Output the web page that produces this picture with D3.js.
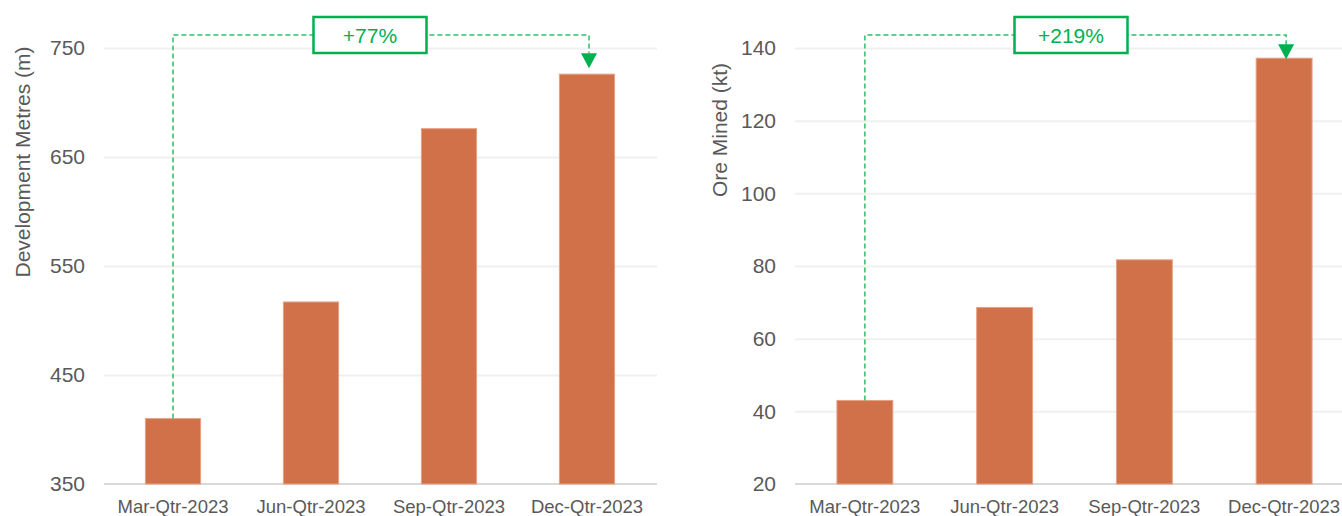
<!DOCTYPE html>
<html>
<head>
<meta charset="utf-8">
<script src="https://cdn.jsdelivr.net/npm/d3@7"></script>
<style>
  body { margin: 0; background: #fff; }
  svg { display: block; font-family: "Liberation Sans", Arial, sans-serif; }
  .grid line { stroke: #f0f0f0; stroke-width: 2; }
  .grid path { display: none; }
  .ytick text { fill: #595959; font-size: 21px; }
  .xtick text { fill: #595959; font-size: 18.5px; }
  .ytick path, .xtick path { display: none; }
</style>
</head>
<body>
<svg id="chart" width="1342" height="516"></svg>
<script>
const quarters = ["Mar-Qtr-2023", "Jun-Qtr-2023", "Sep-Qtr-2023", "Dec-Qtr-2023"];

const devMetres = [410, 517, 676, 726];
const devTicks = [350, 450, 550, 650, 750];
const devTitle = "Development Metres (m)";
const devChange = "+77%";

const oreMined = [43, 68.6, 81.7, 137.2];
const oreTicks = [20, 40, 60, 80, 100, 120, 140];
const oreTitle = "Ore Mined (kt)";
const oreChange = "+219%";

const green = "#00b050";
const barColor = "#d0714a";

const svg = d3.select("#chart");

function drawPanel(opt) {
    const top = 48, bottom = 484;
    const g = svg.append("g");

    const yScale = d3.scaleLinear()
        .domain([opt.ticks[0], opt.ticks[opt.ticks.length - 1]])
        .range([bottom, top]);

    const xScale = d3.scaleBand()
        .domain(quarters)
        .range([opt.left, opt.right])
        .paddingInner(0.6)
        .paddingOuter(0.3);

    // gridlines
    g.append("g")
        .attr("class", "grid")
        .attr("transform", `translate(${opt.left}, 0)`)
        .call(d3.axisLeft(yScale).tickValues(opt.ticks.slice(1))
            .tickSize(-(opt.gridRight - opt.left)).tickFormat(""));

    // baseline
    g.append("line")
        .attr("x1", opt.left).attr("x2", opt.gridRight)
        .attr("y1", yScale(opt.ticks[0])).attr("y2", yScale(opt.ticks[0]))
        .attr("stroke", "#d9d9d9").attr("stroke-width", 2);

    g.append("g")
        .attr("class", "ytick")
        .attr("transform", `translate(${opt.left}, 0)`)
        .call(d3.axisLeft(yScale).tickValues(opt.ticks).tickSize(0).tickPadding(19));

    g.append("g")
        .attr("class", "xtick")
        .attr("transform", `translate(0, ${bottom})`)
        .call(d3.axisBottom(xScale).tickSize(0).tickPadding(16));

    g.selectAll(".bar")
        .data(opt.values)
        .enter()
        .append("rect")
        .attr("class", "bar")
        .attr("x", (d, i) => xScale(quarters[i]))
        .attr("y", d => yScale(d))
        .attr("width", xScale.bandwidth())
        .attr("height", d => bottom - yScale(d))
        .attr("fill", barColor)
        .attr("stroke", "#e6a184")
        .attr("stroke-width", 1);

    g.append("text")
        .attr("transform", `translate(${opt.titleX}, ${opt.titleY}) rotate(-90)`)
        .attr("text-anchor", "middle")
        .attr("dominant-baseline", "middle")
        .attr("fill", "#595959")
        .attr("font-size", "21px")
        .text(opt.title);

    // change annotation
    const n = quarters.length;
    const xa = xScale(quarters[0]) + xScale.bandwidth() / 2;
    const xb = xScale(quarters[n - 1]) + xScale.bandwidth() / 2 + 2;
    const ya = yScale(opt.values[0]);
    const tip = yScale(opt.values[n - 1]) - opt.arrowGap;
    const lineY = 35;
    const arrowH = 15, arrowW = 16;

    g.append("path")
        .attr("d", `M${xa},${ya} V${lineY} H${xb} V${tip - arrowH}`)
        .attr("fill", "none")
        .attr("stroke", "#2fbf68")
        .attr("stroke-width", 1.5)
        .attr("stroke-dasharray", "5,3");

    g.append("path")
        .attr("d", `M${xb - arrowW / 2},${tip - arrowH} L${xb + arrowW / 2},${tip - arrowH} L${xb},${tip} Z`)
        .attr("fill", green);

    const boxW = 113, boxH = 36;
    g.append("rect")
        .attr("x", opt.boxCx - boxW / 2)
        .attr("y", lineY - boxH / 2)
        .attr("width", boxW)
        .attr("height", boxH)
        .attr("fill", "#fff")
        .attr("stroke", green)
        .attr("stroke-width", 2.5);

    g.append("text")
        .attr("x", opt.boxCx)
        .attr("y", lineY)
        .attr("text-anchor", "middle")
        .attr("dominant-baseline", "central")
        .attr("fill", green)
        .attr("font-size", "21px")
        .text(opt.change);
}

drawPanel({
    values: devMetres, ticks: devTicks, title: devTitle, change: devChange,
    left: 104, right: 656, gridRight: 657,
    titleX: 24, titleY: 162, boxCx: 370, arrowGap: 6
});

drawPanel({
    values: oreMined, ticks: oreTicks, title: oreTitle, change: oreChange,
    left: 795, right: 1354, gridRight: 1342,
    titleX: 721, titleY: 130, boxCx: 1071, arrowGap: -1
});
</script>
</body>
</html>
